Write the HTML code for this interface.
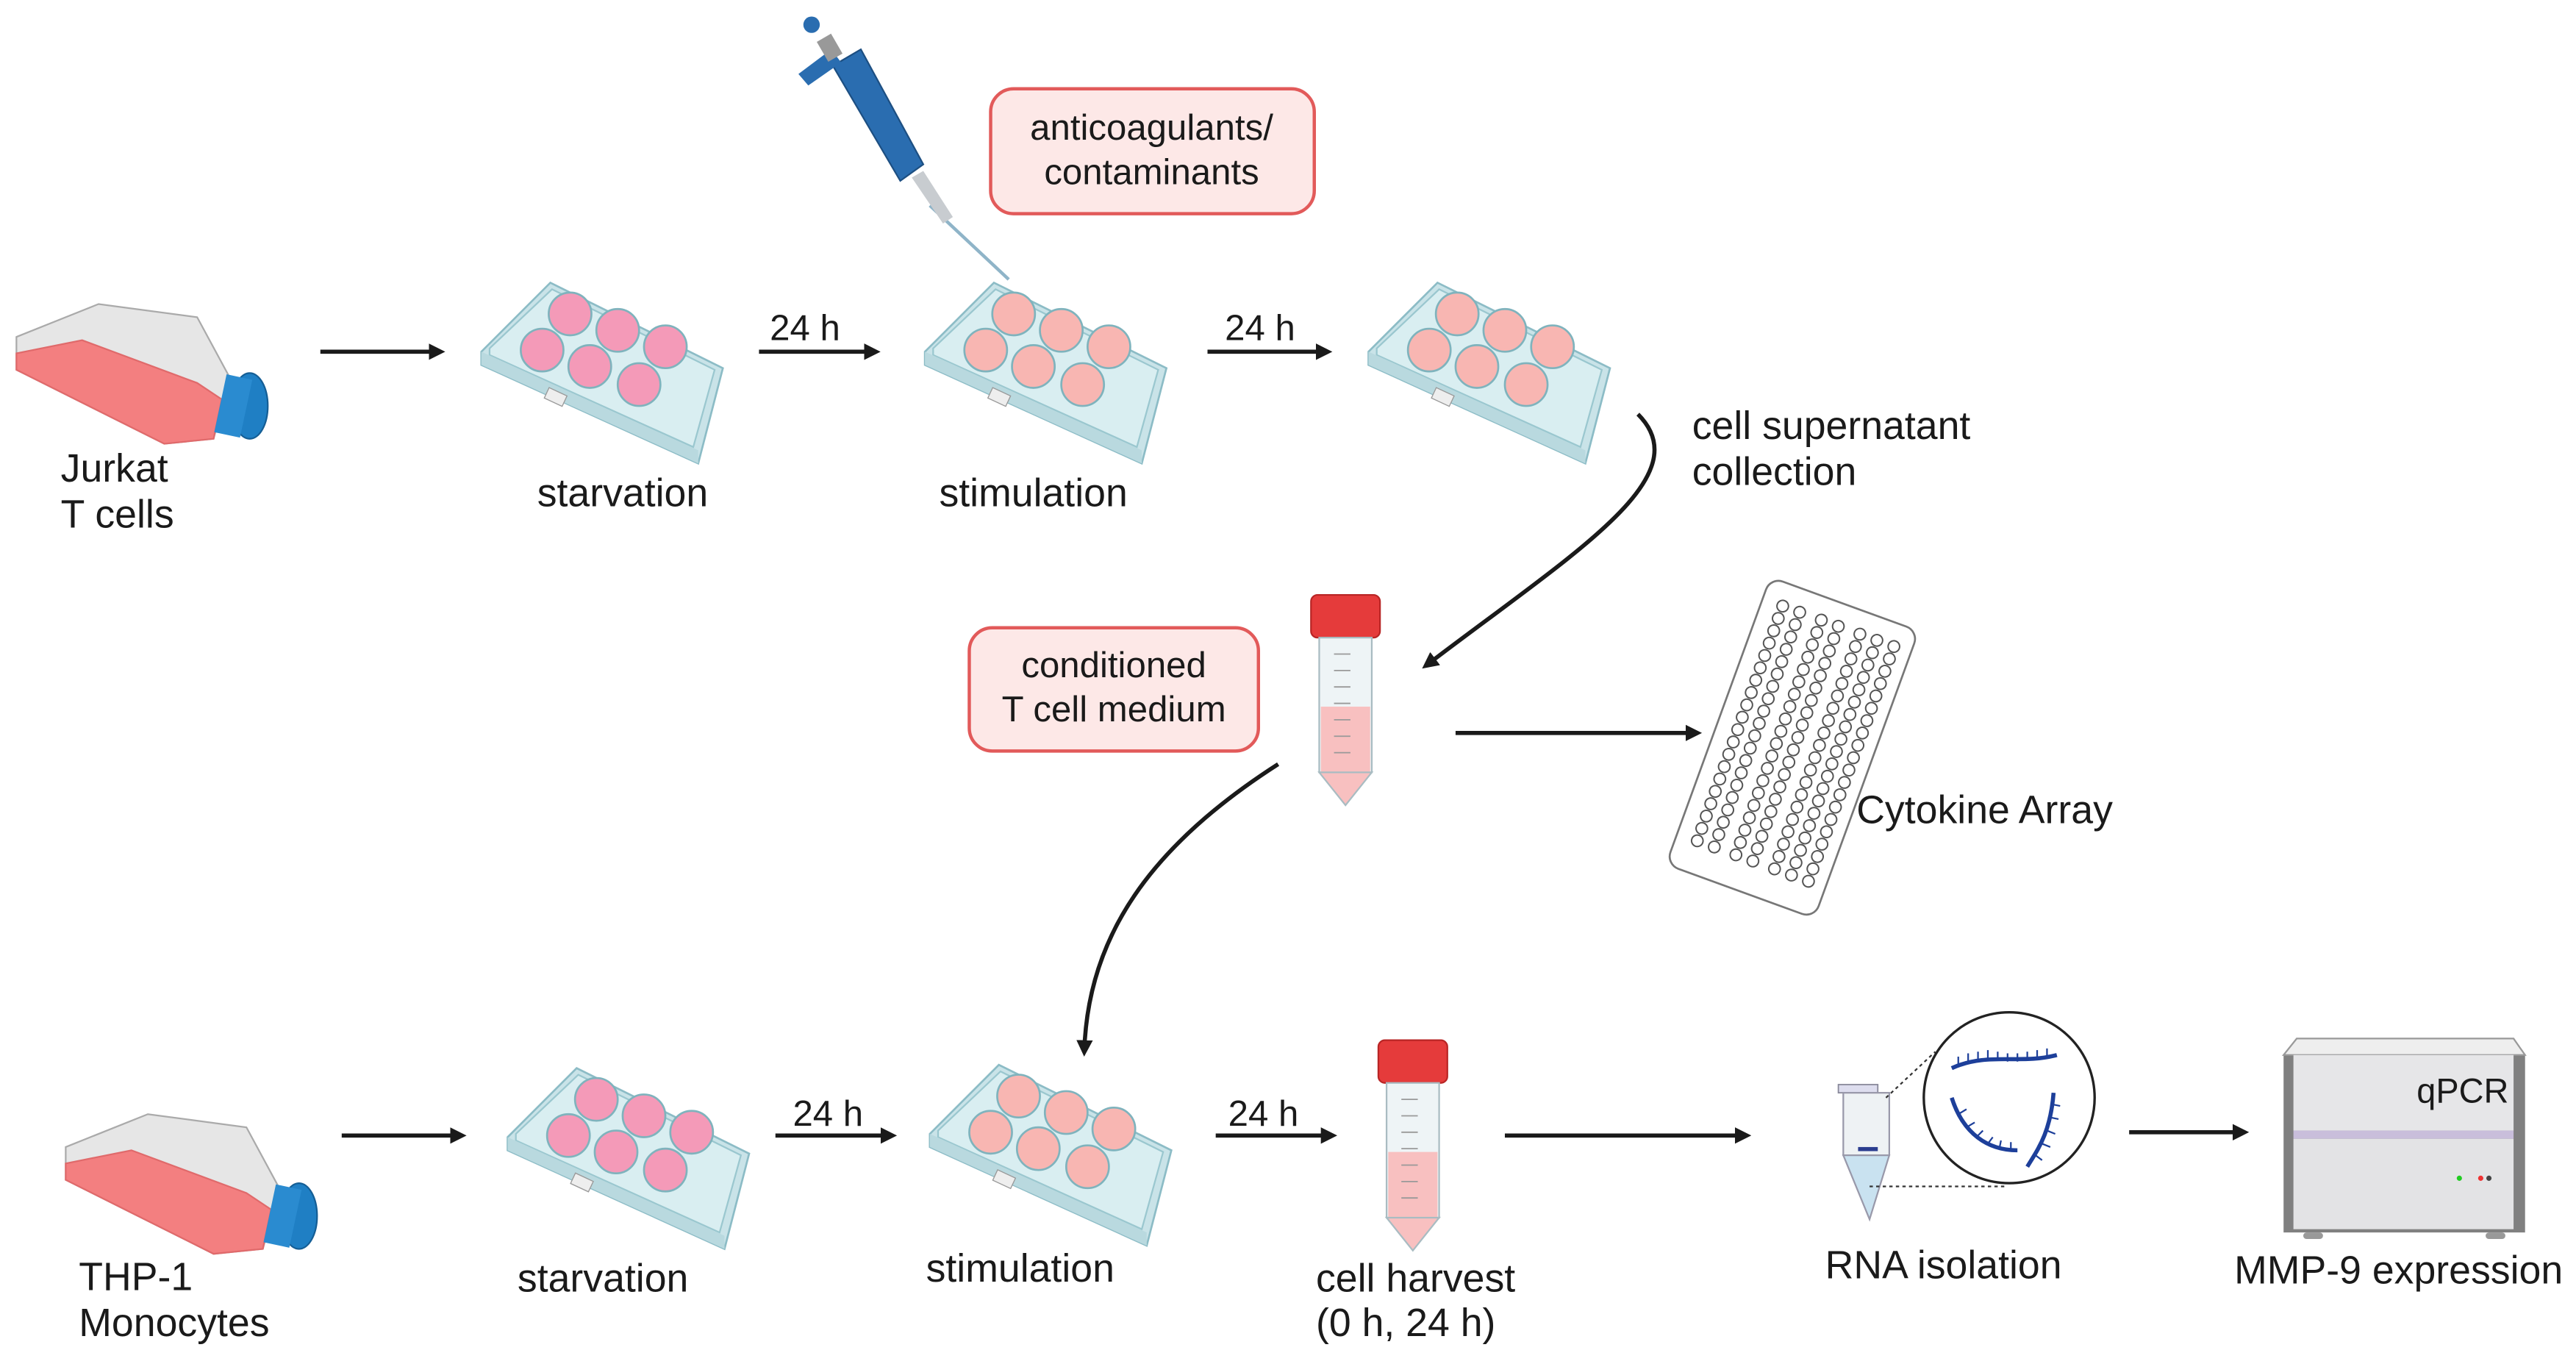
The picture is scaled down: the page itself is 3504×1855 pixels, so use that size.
<!DOCTYPE html>
<html><head><meta charset="utf-8"><style>
html,body{margin:0;padding:0;background:#fff;}
svg{display:block}
text{font-family:"Liberation Sans",sans-serif;fill:#1a1a1a;}
</style></head><body>
<svg width="3504" height="1855" viewBox="0 0 1568 830" xmlns="http://www.w3.org/2000/svg">
<defs>
<marker id="ah" markerWidth="10" markerHeight="10" refX="7" refY="5" orient="auto" markerUnits="userSpaceOnUse">
<path d="M0,0 L10,5 L0,10 z" fill="#1a1a1a"/></marker>
<g id="plate">
  <polygon points="1,42 43,0 148,52 133,110 1,50" fill="#c9e3e8" stroke="#8cbcc6" stroke-width="1.2"/>
  <polygon points="6,40 44,4 143,53 130,100 6,44" fill="#d9eef1" stroke="#9ac7cf" stroke-width="1"/>
  <polygon points="1,42 133,102 133,110 1,50" fill="#b9d9df"/>
  <rect x="40" y="66" width="12" height="7" fill="#eee" stroke="#999" stroke-width="0.6" transform="rotate(25 46 70)"/>
</g>
<g id="wellsA" fill="#f49ab8" stroke="#7fb3bd" stroke-width="1.2">
  <circle cx="55" cy="19" r="13"/><circle cx="84" cy="29" r="13"/><circle cx="113" cy="39" r="13"/>
  <circle cx="38" cy="41" r="13"/><circle cx="67" cy="51" r="13"/><circle cx="97" cy="62" r="13"/>
</g>
<g id="wellsB" fill="#f8b6b2" stroke="#7fb3bd" stroke-width="1.2">
  <circle cx="55" cy="19" r="13"/><circle cx="84" cy="29" r="13"/><circle cx="113" cy="39" r="13"/>
  <circle cx="38" cy="41" r="13"/><circle cx="67" cy="51" r="13"/><circle cx="97" cy="62" r="13"/>
</g>
<g id="flask">
  <polygon points="0,20 50,0 110,8 130,45 120,82 90,85 0,40" fill="#e6e6e6" stroke="#aaa" stroke-width="1"/>
  <polygon points="0,40 0,30 40,22 110,48 125,58 120,82 90,85" fill="#f37f80" stroke="#e06a6b" stroke-width="1"/>
  <ellipse cx="142" cy="62" rx="11" ry="20" fill="#1f7fc4" stroke="#155e95" stroke-width="1"/>
  <rect x="124" y="44" width="16" height="36" fill="#2a8bd0" transform="rotate(12 132 62)"/>
</g>
<g id="tube">
  <rect x="0" y="0" width="42" height="26" rx="4" fill="#e53b3b" stroke="#b92525" stroke-width="1"/>
  <rect x="5" y="26" width="32" height="82" fill="#eef4f6" stroke="#a9bcc2" stroke-width="1"/>
  <rect x="6" y="68" width="30" height="40" fill="#f8c0c0"/>
  <polygon points="5,108 37,108 21,128" fill="#f8c0c0" stroke="#a9bcc2" stroke-width="1"/>
  <g stroke="#999" stroke-width="0.8"><line x1="14" y1="36" x2="24" y2="36"/><line x1="14" y1="46" x2="24" y2="46"/><line x1="14" y1="56" x2="24" y2="56"/><line x1="14" y1="66" x2="24" y2="66"/><line x1="14" y1="76" x2="24" y2="76"/><line x1="14" y1="86" x2="24" y2="86"/><line x1="14" y1="96" x2="24" y2="96"/></g>
</g>
<g id="dots" fill="none" stroke="#555" stroke-width="0.9">
  <circle cx="0" cy="0" r="3.5"/><circle cx="0" cy="8" r="3.5"/><circle cx="0" cy="16" r="3.5"/><circle cx="0" cy="24" r="3.5"/><circle cx="0" cy="32" r="3.5"/><circle cx="0" cy="40" r="3.5"/><circle cx="0" cy="48" r="3.5"/><circle cx="0" cy="56" r="3.5"/><circle cx="0" cy="64" r="3.5"/><circle cx="0" cy="72" r="3.5"/><circle cx="0" cy="80" r="3.5"/><circle cx="0" cy="88" r="3.5"/><circle cx="0" cy="96" r="3.5"/><circle cx="0" cy="104" r="3.5"/><circle cx="0" cy="112" r="3.5"/><circle cx="0" cy="120" r="3.5"/><circle cx="0" cy="128" r="3.5"/><circle cx="0" cy="136" r="3.5"/><circle cx="0" cy="144" r="3.5"/><circle cx="0" cy="152" r="3.5"/>
</g>
</defs>

<!-- Row 1 -->
<use href="#flask" transform="translate(10,185)"/>
<text x="37" y="293" font-size="24">Jurkat</text>
<text x="37" y="321" font-size="24">T cells</text>
<line x1="195" y1="214" x2="268" y2="214" stroke="#1a1a1a" stroke-width="2.5" marker-end="url(#ah)"/>

<g transform="translate(292,172)"><use href="#plate"/><use href="#wellsA"/></g>
<text x="379" y="308" font-size="24" text-anchor="middle">starvation</text>
<text x="490" y="207" font-size="22" text-anchor="middle">24 h</text>
<line x1="462" y1="214" x2="533" y2="214" stroke="#1a1a1a" stroke-width="2.5" marker-end="url(#ah)"/>

<g transform="translate(562,172)"><use href="#plate"/><use href="#wellsB"/></g>
<text x="629" y="308" font-size="24" text-anchor="middle">stimulation</text>

<!-- pipette -->
<line x1="566" y1="125" x2="614" y2="170" stroke="#8fb4c8" stroke-width="2"/>
<polygon points="555,108 562,104 580,132 574,136" fill="#c8ccd0"/>
<polygon points="507,40 524,30 562,100 548,110" fill="#2a6db0" stroke="#1d4f82" stroke-width="1"/>
<polygon points="486,45 506,30 512,38 492,52" fill="#2a6db0"/>
<rect x="500" y="22" width="10" height="14" fill="#999" transform="rotate(-30 505 29)"/>
<circle cx="494" cy="15" r="5" fill="#2a6db0"/>

<rect x="603" y="54" width="197" height="76" rx="14" fill="#fde8e7" stroke="#e25a5a" stroke-width="2"/>
<text x="701" y="85" font-size="22" text-anchor="middle">anticoagulants/</text>
<text x="701" y="112" font-size="22" text-anchor="middle">contaminants</text>

<text x="767" y="207" font-size="22" text-anchor="middle">24 h</text>
<line x1="735" y1="214" x2="808" y2="214" stroke="#1a1a1a" stroke-width="2.5" marker-end="url(#ah)"/>
<g transform="translate(832,172)"><use href="#plate"/><use href="#wellsB"/></g>

<text x="1030" y="267" font-size="24">cell supernatant</text>
<text x="1030" y="295" font-size="24">collection</text>
<path d="M997,252 C1035,290 960,335 868,405" fill="none" stroke="#1a1a1a" stroke-width="2.5" marker-end="url(#ah)"/>

<rect x="590" y="382" width="176" height="75" rx="14" fill="#fde8e7" stroke="#e25a5a" stroke-width="2"/>
<text x="678" y="412" font-size="22" text-anchor="middle">conditioned</text>
<text x="678" y="439" font-size="22" text-anchor="middle">T cell medium</text>

<use href="#tube" transform="translate(798,362)"/>
<line x1="886" y1="446" x2="1033" y2="446" stroke="#1a1a1a" stroke-width="2.5" marker-end="url(#ah)"/>

<!-- cytokine array -->
<g transform="rotate(20 1091 455)">
  <rect x="1043" y="362" width="96" height="186" rx="8" fill="#fff" stroke="#777" stroke-width="1.2"/>
  <use href="#dots" transform="translate(1056,376)"/>
  <use href="#dots" transform="translate(1067,376)"/>
  <use href="#dots" transform="translate(1081,376)"/>
  <use href="#dots" transform="translate(1092,376)"/>
  <use href="#dots" transform="translate(1106,376)"/>
  <use href="#dots" transform="translate(1117,376)"/>
  <use href="#dots" transform="translate(1128,376)"/>
</g>
<text x="1130" y="501" font-size="24">Cytokine Array</text>

<path d="M778,465 C700,515 662,570 660,640" fill="none" stroke="#1a1a1a" stroke-width="2.5" marker-end="url(#ah)"/>

<!-- Row 2 -->
<use href="#flask" transform="translate(40,678)"/>
<text x="48" y="785" font-size="24">THP-1</text>
<text x="48" y="813" font-size="24">Monocytes</text>
<line x1="208" y1="691" x2="281" y2="691" stroke="#1a1a1a" stroke-width="2.5" marker-end="url(#ah)"/>

<g transform="translate(308,650)"><use href="#plate"/><use href="#wellsA"/></g>
<text x="367" y="786" font-size="24" text-anchor="middle">starvation</text>
<text x="504" y="685" font-size="22" text-anchor="middle">24 h</text>
<line x1="472" y1="691" x2="543" y2="691" stroke="#1a1a1a" stroke-width="2.5" marker-end="url(#ah)"/>

<g transform="translate(565,648)"><use href="#plate"/><use href="#wellsB"/></g>
<text x="621" y="780" font-size="24" text-anchor="middle">stimulation</text>
<text x="769" y="685" font-size="22" text-anchor="middle">24 h</text>
<line x1="740" y1="691" x2="811" y2="691" stroke="#1a1a1a" stroke-width="2.5" marker-end="url(#ah)"/>

<use href="#tube" transform="translate(839,633)"/>
<text x="801" y="786" font-size="24">cell harvest</text>
<text x="801" y="813" font-size="24">(0 h, 24 h)</text>
<line x1="916" y1="691" x2="1063" y2="691" stroke="#1a1a1a" stroke-width="2.5" marker-end="url(#ah)"/>

<!-- eppendorf -->
<rect x="1119" y="660" width="24" height="5" fill="#dde" stroke="#889" stroke-width="0.8"/>
<rect x="1122" y="665" width="28" height="38" fill="#eef2f4" stroke="#99a" stroke-width="1"/>
<polygon points="1122,703 1150,703 1138,742" fill="#c9e2f0" stroke="#99a" stroke-width="1"/>
<rect x="1131" y="698" width="12" height="2.5" fill="#2a3d8f"/>
<line x1="1148" y1="668" x2="1178" y2="640" stroke="#333" stroke-width="1" stroke-dasharray="2,2"/>
<line x1="1138" y1="722" x2="1220" y2="722" stroke="#333" stroke-width="1" stroke-dasharray="2,2"/>
<circle cx="1223" cy="668" r="52" fill="#fff" stroke="#222" stroke-width="1.5"/>
<g fill="none" stroke="#1d3f9a" stroke-width="2.5">
<path d="M1188,650 C1210,640 1230,648 1252,642"/>
<path d="M1188,668 C1195,690 1210,700 1228,700"/>
<path d="M1250,665 C1248,690 1240,700 1234,710"/>
</g>
<g stroke="#1d3f9a" stroke-width="1">
<path d="M1192,648 v-5 M1198,646 v-5 M1204,645 v-5 M1210,644 v-5 M1216,645 v-5 M1222,646 v-5 M1228,646 v-5 M1234,645 v-5 M1240,644 v-5 M1246,643 v-5"/>
<path d="M1192,678 l5,-3 M1197,686 l5,-3 M1203,692 l4,-4 M1210,696 l3,-4 M1217,699 l1,-5 M1224,700 l0,-5"/>
<path d="M1249,672 l5,1 M1248,680 l5,1 M1246,688 l5,2 M1243,696 l5,2 M1239,703 l4,3"/>
</g>
<text x="1183" y="778" font-size="24" text-anchor="middle">RNA isolation</text>

<line x1="1296" y1="689" x2="1366" y2="689" stroke="#1a1a1a" stroke-width="2.5" marker-end="url(#ah)"/>

<!-- qPCR -->
<rect x="1390" y="642" width="147" height="108" fill="#808080"/>
<polygon points="1398,632 1530,632 1537,642 1390,642" fill="#eee" stroke="#999" stroke-width="1"/>
<rect x="1396" y="642" width="134" height="46" fill="#e6e6e8"/>
<rect x="1396" y="688" width="134" height="5" fill="#c9bedb"/>
<rect x="1396" y="693" width="134" height="55" fill="#e3e3e5"/>
<circle cx="1497" cy="717" r="1.6" fill="#2c2"/><circle cx="1510" cy="717" r="1.6" fill="#e33"/><circle cx="1515" cy="717" r="1.6" fill="#444"/>
<rect x="1402" y="750" width="12" height="4" rx="2" fill="#999"/><rect x="1513" y="750" width="12" height="4" rx="2" fill="#999"/>
<text x="1527" y="671" font-size="21" text-anchor="end">qPCR</text>
<text x="1460" y="781" font-size="24" text-anchor="middle">MMP-9 expression</text>
</svg>
</body></html>
